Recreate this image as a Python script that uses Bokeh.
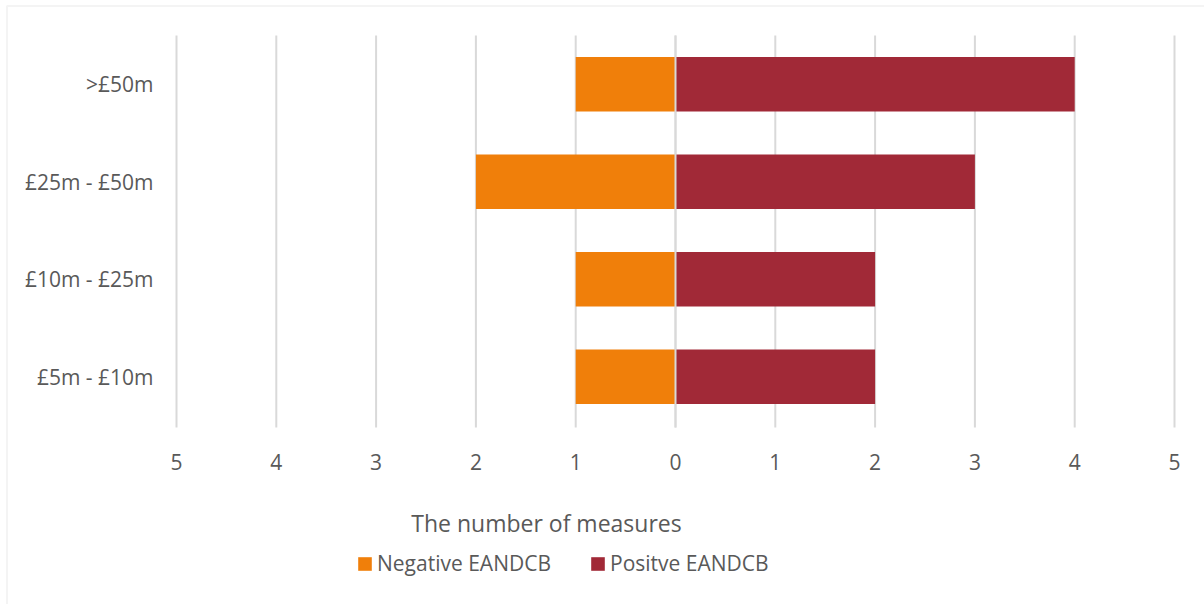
from bokeh.plotting import figure
from bokeh.models import Range1d, Legend, LegendItem, BoxAnnotation, ColumnDataSource
from bokeh.core.properties import value
from bokeh.embed import file_html
from bokeh.resources import INLINE

categories = ["£5m - £10m", "£10m - £25m", "£25m - £50m", ">£50m"]
negative = [1, 1, 2, 1]
positive = [2, 2, 3, 4]
x_ticks = [-5, -4, -3, -2, -1, 0, 1, 2, 3, 4, 5]
x_tick_labels = [str(abs(t)) for t in x_ticks]
axis_title = "The number of measures"
series_names = ["Negative EANDCB", "Positve EANDCB"]

FONT = "Open Sans"
TXT = "#595959"
GRID = "#d9d9d9"
ORANGE = "#F07F0A"
MAROON = "#A12937"

W, H = 1204, 604
# screen layout: value 0 at x=675px, 99.8 px per unit; y=3.5 at 35px, 97.5 px per unit
PXU_X, X0 = 99.8, 675.0
PXU_Y, YTOP_PX, YTOP = 97.5, 35.0, 3.5


def xv(px):
    return (px - X0) / PXU_X


def yv(py):
    return YTOP - (py - YTOP_PX) / PXU_Y


ypos = list(range(len(categories)))
ymin, ymax = -0.5, len(categories) - 0.5

p = figure(width=W, height=H, output_backend="svg", toolbar_location=None,
           x_range=Range1d(xv(0), xv(W)), y_range=Range1d(yv(H), yv(0)),
           min_border=0)
p.outline_line_color = None
p.axis.visible = False
p.grid.visible = False

# vertical gridlines
p.segment(x0=x_ticks, x1=x_ticks, y0=[ymin - 0.02] * len(x_ticks), y1=[ymax] * len(x_ticks),
          line_color=GRID, line_width=2)

src = ColumnDataSource(dict(y=ypos, neg=[-v for v in negative], pos=positive, zero=[0] * len(ypos)))
r_neg = p.hbar(y="y", left="neg", right="zero", height=0.56, source=src, fill_color=ORANGE, line_color=None)
r_pos = p.hbar(y="y", left="zero", right="pos", height=0.56, source=src, fill_color=MAROON, line_color=None)
# zero line over the bars
p.segment(x0=[0], x1=[0], y0=[ymin - 0.02], y1=[ymax], line_color=GRID, line_width=2)

# x tick labels
p.text(x=x_ticks, y=[yv(461)] * len(x_ticks), text=x_tick_labels, text_align="center",
       text_baseline="middle", text_font=value(FONT), text_font_size="21px", text_color=TXT)
# category labels
p.text(x=[xv(153)] * len(categories), y=ypos, text=categories, text_align="right",
       text_baseline="middle", text_font=value(FONT), text_font_size="21px", text_color=TXT)
# axis title
p.text(x=[xv(546)], y=[yv(522)], text=[axis_title], text_align="center",
       text_baseline="middle", text_font=value(FONT), text_font_size="23px", text_color=TXT)

items = [LegendItem(label=series_names[0], renderers=[r_neg]),
         LegendItem(label=series_names[1], renderers=[r_pos])]
leg = Legend(items=items, orientation="horizontal", location=(356, 27),
             padding=0, margin=0, spacing=38, glyph_width=17, glyph_height=17, label_standoff=4,
             label_text_font=FONT, label_text_font_size="21px", label_text_color=TXT,
             border_line_color=None, background_fill_alpha=0)
p.add_layout(leg, "center")

# outer chart border (left and top visible)
p.add_layout(BoxAnnotation(left=xv(6.5), top=yv(5.5), right=xv(W + 20), bottom=yv(H + 20),
                           fill_alpha=0, line_color=GRID, line_width=2))

open("out.html", "w").write(file_html(p, INLINE))
